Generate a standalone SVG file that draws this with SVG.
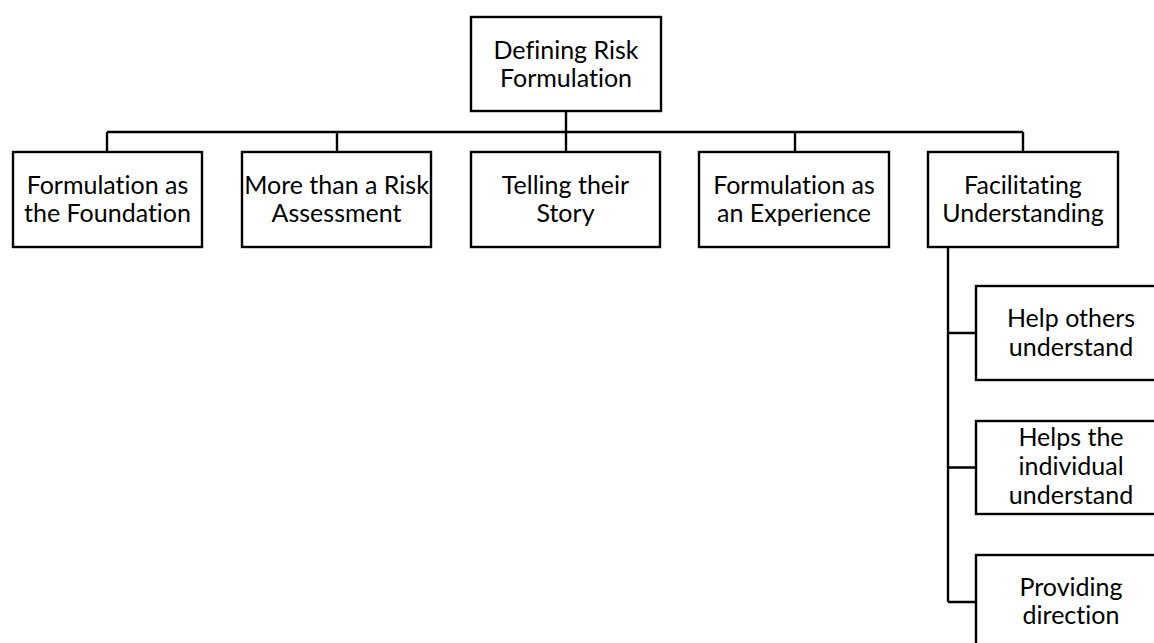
<svg xmlns="http://www.w3.org/2000/svg" width="1154" height="643" viewBox="0 0 1154 643">
<style>
.box{fill:#fff;stroke:#000;stroke-width:2.4}
.ln{fill:none;stroke:#000;stroke-width:2.4}
text{font-family:Lato,"Liberation Sans",sans-serif;font-size:25px;fill:#000;text-anchor:middle;font-variant-ligatures:none;font-feature-settings:"liga" 0,"dlig" 0}
</style>
<rect width="1154" height="643" fill="#fff"/>
<g id="connectors">
<path class="ln" d="M566 111V132M107 132H1023M107 132V152M337 132V152M566 132V152M795 132V152M1023 132V152"/>
<path class="ln" d="M948 247V602M948 333H976M948 467.5H976M948 602H976"/>
</g>
<g id="root"><rect class="box" x="471" y="17" width="190" height="94"/><text x="566" y="59">Defining Risk</text><text x="566" y="87">Formulation</text></g>
<g id="n1"><rect class="box" x="13" y="152" width="189" height="95"/><text x="107.5" y="194">Formulation as</text><text x="107.5" y="222">the Foundation</text></g>
<g id="n2"><rect class="box" x="242" y="152" width="189" height="95"/><text x="336.5" y="194">More than a Risk</text><text x="336.5" y="222">Assessment</text></g>
<g id="n3"><rect class="box" x="471" y="152" width="189" height="95"/><text x="565.5" y="194">Telling their</text><text x="565.5" y="222">Story</text></g>
<g id="n4"><rect class="box" x="699" y="152" width="190" height="95"/><text x="794" y="194">Formulation as</text><text x="794" y="222">an Experience</text></g>
<g id="n5"><rect class="box" x="928" y="152" width="190" height="95"/><text x="1023" y="194">Facilitating</text><text x="1023" y="222">Understanding</text></g>
<g id="s1"><rect class="box" x="976" y="286" width="190" height="94"/><text x="1071" y="327">Help others</text><text x="1071" y="356">understand</text></g>
<g id="s2"><rect class="box" x="976" y="421" width="190" height="93"/><text x="1071" y="446">Helps the</text><text x="1071" y="475">individual</text><text x="1071" y="504">understand</text></g>
<g id="s3"><rect class="box" x="976" y="555" width="190" height="94"/><text x="1071" y="596">Providing</text><text x="1071" y="624">direction</text></g>
</svg>
